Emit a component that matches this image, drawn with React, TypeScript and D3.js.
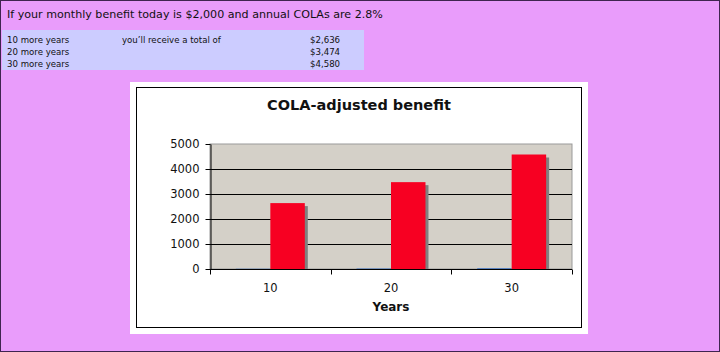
import React, { useEffect, useRef } from 'react';
import * as d3 from 'd3';

// Values
const years = ['10', '20', '30'];
const yearsSeries = [10, 20, 30]; // blue series (years plotted by mistake)
const benefit = [2636, 3474, 4580]; // red series
const yTicks = [0, 1000, 2000, 3000, 4000, 5000];
const tableRows = ['10 more years', '20 more years', '30 more years'];
const tableTotals = ['$2,636', '$3,474', '$4,580'];

const W = 720;
const H = 352;
const FONT = 'DejaVu Sans, Verdana, sans-serif';

const App = () => {
  const svgRef = useRef<SVGSVGElement>(null);

  useEffect(() => {
    const svg = d3.select(svgRef.current);
    svg.selectAll('*').remove();

    // page background and frame
    svg.append('rect').attr('x', 0.5).attr('y', 0.5).attr('width', W - 1).attr('height', H - 1)
      .attr('fill', '#E99CFB').attr('stroke', '#3F2450');

    svg.append('text').attr('x', 7).attr('y', 18)
      .text('If your monthly benefit today is $2,000 and annual COLAs are 2.8%')
      .style('font-family', FONT).style('font-size', '11.1px').style('fill', '#111');

    // summary table
    svg.append('rect').attr('x', 2).attr('y', 30).attr('width', 362).attr('height', 40)
      .attr('fill', '#CCCCFF');
    tableRows.forEach((r, i) => {
      const yy = 43 + i * 11.8;
      svg.append('text').attr('x', 7).attr('y', yy).text(r)
        .style('font-family', FONT).style('font-size', '8.6px').style('fill', '#111');
      if (i === 0) {
        svg.append('text').attr('x', 122).attr('y', yy).text('you\u2019ll receive a total of')
          .style('font-family', FONT).style('font-size', '8.6px').style('fill', '#111');
      }
      svg.append('text').attr('x', 310).attr('y', yy).text(tableTotals[i])
        .style('font-family', FONT).style('font-size', '8.6px').style('fill', '#111');
    });

    // chart area
    svg.append('rect').attr('x', 130).attr('y', 82).attr('width', 458).attr('height', 252).attr('fill', '#fff');
    svg.append('rect').attr('x', 136.5).attr('y', 87.5).attr('width', 445).attr('height', 240)
      .attr('fill', 'none').attr('stroke', '#000');

    svg.append('text').attr('x', 359).attr('y', 110).attr('text-anchor', 'middle')
      .text('COLA-adjusted benefit')
      .style('font-family', FONT).style('font-size', '14.5px').style('font-weight', 'bold').style('fill', '#111');

    const left = 210, right = 572, top = 144, bottom = 269;
    const x = d3.scaleBand().domain(years).range([left, right]);
    const y = d3.scaleLinear().domain([0, 5000]).range([bottom, top]);
    const bw = x.bandwidth() / 3.5;

    svg.append('rect').attr('x', left).attr('y', top).attr('width', right - left).attr('height', bottom - top)
      .attr('fill', '#D4D0C8').attr('stroke', '#9A9A9A');

    // gridlines
    svg.append('g').selectAll('line').data(yTicks.filter((t) => t > 0 && t < 5000)).enter().append('line')
      .attr('x1', left).attr('x2', right)
      .attr('y1', (d) => Math.round(y(d)) + 0.5).attr('y2', (d) => Math.round(y(d)) + 0.5)
      .attr('stroke', '#000');

    // blue series
    svg.append('g').selectAll('rect').data(years).enter().append('rect')
      .attr('x', (d) => (x(d) as number) + x.bandwidth() / 2 - bw)
      .attr('y', (d, i) => y(yearsSeries[i]))
      .attr('width', bw)
      .attr('height', (d, i) => bottom - y(yearsSeries[i]))
      .attr('fill', '#3A72C4');

    // red series with shadow
    const red = svg.append('g');
    red.selectAll('rect.sh').data(years).enter().append('rect')
      .attr('x', (d) => (x(d) as number) + x.bandwidth() / 2 + 3)
      .attr('y', (d, i) => y(benefit[i]) + 3)
      .attr('width', bw)
      .attr('height', (d, i) => bottom - y(benefit[i]) - 3)
      .attr('fill', '#808080');
    red.selectAll('rect.bar').data(years).enter().append('rect')
      .attr('x', (d) => (x(d) as number) + x.bandwidth() / 2)
      .attr('y', (d, i) => y(benefit[i]))
      .attr('width', bw)
      .attr('height', (d, i) => bottom - y(benefit[i]))
      .attr('fill', '#F70022');

    // y axis
    const yAxis = svg.append('g').attr('transform', `translate(${left + 0.5},0)`)
      .call(d3.axisLeft(y).tickValues(yTicks).tickFormat(d3.format('d')).tickSize(5).tickPadding(6).tickSizeOuter(0));
    yAxis.select('.domain').attr('stroke', '#000');
    yAxis.selectAll('line').attr('stroke', '#000');
    yAxis.selectAll('text').style('font-family', FONT).style('font-size', '11.5px').style('fill', '#111');

    // x axis with ticks at category boundaries
    const xAxis = svg.append('g').attr('transform', `translate(0,${bottom + 0.5})`);
    xAxis.append('line').attr('x1', left).attr('x2', right).attr('stroke', '#000');
    xAxis.selectAll('line.tk').data([...years.map((d) => x(d) as number), right]).enter().append('line')
      .attr('x1', (d) => Math.round(d) + 0.5).attr('x2', (d) => Math.round(d) + 0.5)
      .attr('y1', 0).attr('y2', 5).attr('stroke', '#000');
    xAxis.selectAll('text').data(years).enter().append('text')
      .attr('x', (d) => (x(d) as number) + x.bandwidth() / 2)
      .attr('y', 22).attr('text-anchor', 'middle').text((d) => d)
      .style('font-family', FONT).style('font-size', '11.5px').style('fill', '#111');

    svg.append('text').attr('x', (left + right) / 2).attr('y', 311).attr('text-anchor', 'middle')
      .text('Years')
      .style('font-family', FONT).style('font-size', '12px').style('font-weight', 'bold').style('fill', '#111');
  }, []);

  return (
    <svg ref={svgRef} width={W} height={H}
      style={{ position: 'absolute', left: 0, top: 0, display: 'block' }} />
  );
};

export default App;
